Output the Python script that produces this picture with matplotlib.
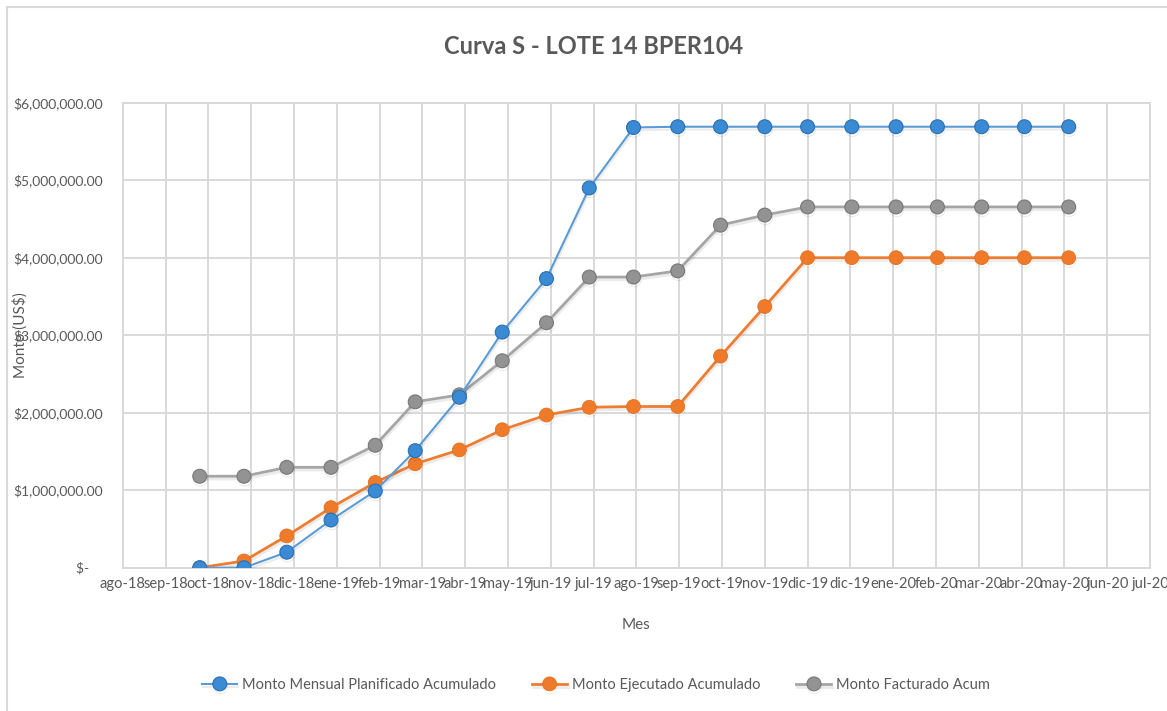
import numpy as np
import pandas as pd
import matplotlib
matplotlib.use('Agg')
import matplotlib.pyplot as plt
import matplotlib.patheffects as pe
from matplotlib.lines import Line2D
from matplotlib.ticker import FuncFormatter

# datos mensuales (primer dia de cada mes), valores en US$
meses = pd.date_range('2018-10-01', periods=21, freq='MS')
planificado = np.array([0.0, 0.0, 0.20, 0.615, 0.99, 1.51, 2.20, 3.04, 3.73, 4.90, 5.68,
                        5.69, 5.69, 5.69, 5.69, 5.69, 5.69, 5.69, 5.69, 5.69, 5.69]) * 1e6
ejecutado = np.array([0.0, 0.087, 0.41, 0.775, 1.10, 1.34, 1.52, 1.78, 1.97, 2.07, 2.08,
                      2.08, 2.73, 3.37, 4.00, 4.00, 4.00, 4.00, 4.00, 4.00, 4.00]) * 1e6
facturado = np.array([1.18, 1.18, 1.295, 1.295, 1.58, 2.14, 2.23, 2.67, 3.16, 3.75, 3.75,
                      3.83, 4.42, 4.55, 4.655, 4.655, 4.655, 4.655, 4.655, 4.655, 4.655]) * 1e6

etiquetas_x = ['ago-18', 'sep-18', 'oct-18', 'nov-18', 'dic-18', 'ene-19', 'feb-19',
               'mar-19', 'abr-19', 'may-19', 'jun-19', 'jul-19', 'ago-19', 'sep-19',
               'oct-19', 'nov-19', 'dic-19', 'dic-19', 'ene-20', 'feb-20', 'mar-20',
               'abr-20', 'may-20', 'jun-20', 'jul-20']
series = ['Monto Mensual Planificado Acumulado', 'Monto Ejecutado Acumulado',
          'Monto Facturado Acum']

# eje de fechas de Excel: marcas cada 30 dias
inicio = pd.Timestamp('2018-08-08')
marcas = [inicio + pd.Timedelta(days=30 * i) for i in range(len(etiquetas_x))]

gris_txt = '#595959'
plt.rcParams['font.family'] = ['Lato', 'DejaVu Sans']

W, H = 1167, 711
fig = plt.figure(figsize=(W / 100, H / 100), dpi=100)
ax = fig.add_axes([122.7 / W, 1 - 567.7 / H, (1150 - 122.7) / W, (567.7 - 102.7) / H])

sombra = [pe.SimpleLineShadow(offset=(0.5, -2), alpha=0.08, shadow_color='black'), pe.Normal()]

l1, = ax.plot(meses, planificado, color='#5B9BD5', lw=1.5, marker='o', ms=10,
              mfc='#3A8BD4', mec='#2A6FB3', mew=0.8, label=series[0], path_effects=sombra, zorder=4)
l2, = ax.plot(meses, ejecutado, color='#ED7D31', lw=2.0, marker='o', ms=10,
              mfc='#EF7B2A', mec='#E2711F', mew=0.6, label=series[1], path_effects=sombra, zorder=3)
l3, = ax.plot(meses, facturado, color='#A5A5A5', lw=2.0, marker='o', ms=10,
              mfc='#939393', mec='#777777', mew=0.8, label=series[2], path_effects=sombra, zorder=2)

ax.set_xlim(marcas[0], marcas[-1])
ax.set_xticks(marcas)
ax.set_xticklabels(etiquetas_x)
ax.set_ylim(0, 6e6)
ax.set_yticks(np.arange(0, 6e6 + 1, 1e6))
ax.yaxis.set_major_formatter(FuncFormatter(lambda v, p: '$-    ' if v == 0 else f'${v:,.2f}'))

ax.grid(True, color='#D9D9D9', lw=1.4)
ax.set_axisbelow(True)
for s in ax.spines.values():
    s.set_color('#D9D9D9')
    s.set_linewidth(1.4)
ax.tick_params(length=0, labelsize=10, labelcolor=gris_txt)
ax.tick_params(axis='y', pad=14)
ax.tick_params(axis='x', pad=7, labelsize=10.5)

fig.text(594 / W, 1 - 47 / H, 'Curva S - LOTE 14 BPER104', ha='center', va='center',
         fontsize=17, fontweight='bold', color=gris_txt)
fig.text(636 / W, 1 - 625 / H, 'Mes', ha='center', va='center', fontsize=11, color=gris_txt)
fig.text(20 / W, 1 - 335 / H, 'Monto (US$)', ha='center', va='center', rotation=90,
         fontsize=11, color=gris_txt)

fig.legend(handles=[l1, l2, l3], loc='center', bbox_to_anchor=(596 / W, 1 - 685 / H),
           ncol=3, frameon=False, fontsize=10.5, labelcolor=gris_txt, handlelength=2.4,
           columnspacing=2.5, handletextpad=0.3)

# borde del area del grafico
fig.add_artist(Line2D([7 / W, 7 / W], [0, 1 - 7 / H], transform=fig.transFigure, color='#D9D9D9', lw=1.5))
fig.add_artist(Line2D([7 / W, 1], [1 - 7 / H, 1 - 7 / H], transform=fig.transFigure, color='#D9D9D9', lw=1.5))

fig.savefig('out.png', dpi=100)
